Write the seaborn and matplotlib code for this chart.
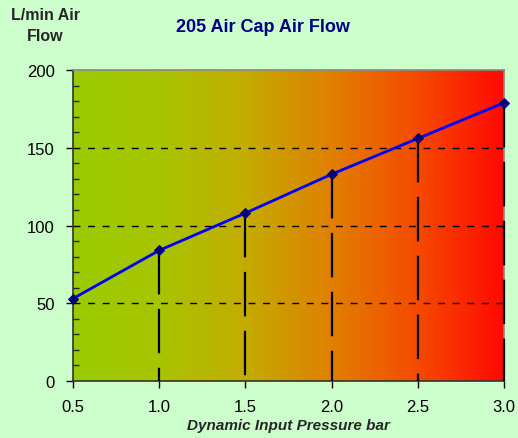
import matplotlib
matplotlib.use("Agg")
import matplotlib.pyplot as plt
import numpy as np
import pandas as pd
import seaborn as sns
from matplotlib.colors import LinearSegmentedColormap
from matplotlib.ticker import MultipleLocator

# data
pressure = [0.5, 1.0, 1.5, 2.0, 2.5, 3.0]
air_flow = [53, 84, 108, 133, 156, 179]
x_ticks = [0.5, 1.0, 1.5, 2.0, 2.5, 3.0]
x_tick_labels = ["0.5", "1.0", "1.5", "2.0", "2.5", "3.0"]
y_ticks = [0, 50, 100, 150, 200]

df = pd.DataFrame({"pressure": pressure, "flow": air_flow})

sns.set_style("white")
plt.rcParams["font.family"] = ["Liberation Sans", "DejaVu Sans"]

fig = plt.figure(figsize=(5.18, 4.39), dpi=100, facecolor="#CCFFCC")
ax = fig.add_axes([0.141, 0.130, 0.832, 0.708])

# green-to-red gradient background
cmap = LinearSegmentedColormap.from_list(
    "gr", [(0.0, "#99CC00"), (0.2, "#A8C400"), (0.4, "#C4AC00"),
           (0.6, "#E08000"), (0.8, "#F64A00"), (1.0, "#FF0A00")])
grad = np.linspace(0, 1, 256).reshape(1, -1)
ax.imshow(grad, cmap=cmap, aspect="auto", extent=[0.5, 3.0, 0, 200], zorder=0)

# horizontal dashed gridlines
for yv in [50, 100, 150]:
    ax.axhline(yv, color="black", lw=1, linestyle=(0, (5, 5.5)), zorder=1)

# drop lines from each point down to the axis
ax.vlines(df["pressure"][1:], df["flow"][1:], 0, colors="black", lw=1.6,
          linestyles=[(0, (20, 6.5))], zorder=2.7, clip_on=False)

sns.lineplot(data=df, x="pressure", y="flow", ax=ax, color="#0000FF", lw=2,
             marker="D", markersize=5, markerfacecolor="#000080",
             markeredgecolor="#000080", zorder=3, clip_on=False)

ax.set_xlim(0.5, 3.0)
ax.set_ylim(0, 200)
ax.set_xticks(x_ticks)
ax.set_xticklabels(x_tick_labels)
ax.set_yticks(y_ticks)
ax.yaxis.set_minor_locator(MultipleLocator(10))
ax.tick_params(axis="both", which="major", direction="out", length=5, width=1,
               labelsize=12, colors="black", pad=8)
ax.tick_params(axis="y", which="minor", direction="in", length=4, width=1, left=True)
ax.tick_params(axis="x", bottom=True)
ax.tick_params(axis="y", left=True)

for s in ["top", "right"]:
    ax.spines[s].set_color("#888888")
    ax.spines[s].set_linewidth(1.2)
ax.spines["left"].set_color("#333333")
ax.spines["bottom"].set_color("#333333")
ax.spines["left"].set_linewidth(1.2)
ax.spines["bottom"].set_linewidth(1.2)

ax.set_xlabel("Dynamic Input Pressure bar", fontsize=11, fontweight="bold",
              fontstyle="italic", labelpad=3)
ax.set_ylabel("")
fig.text(0.087, 0.94, "L/min Air\nFlow", ha="center", va="center",
         fontsize=11.5, fontweight="bold", linespacing=1.5)
fig.text(0.508, 0.937, "205 Air Cap Air Flow", ha="center", va="center",
         fontsize=13, fontweight="bold", color="#000080")

fig.savefig("out.png", dpi=100, facecolor=fig.get_facecolor())
